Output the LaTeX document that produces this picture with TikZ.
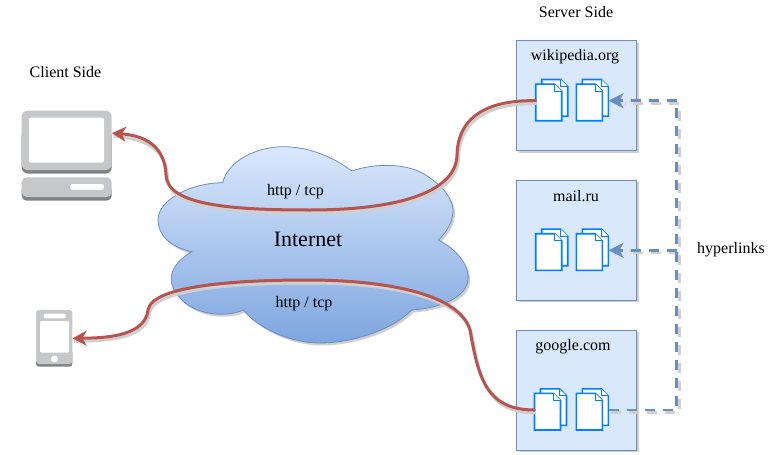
\documentclass[tikz,border=0pt]{standalone}
\usepackage{fontspec}
\setmainfont{Liberation Serif}
\usetikzlibrary{arrows.meta,calc}
\definecolor{boxfill}{HTML}{DAE8FC}
\definecolor{boxline}{HTML}{6C8EBF}
\definecolor{cloudbot}{HTML}{7EA6E0}
\definecolor{redline}{HTML}{B85450}
\definecolor{shadowc}{HTML}{CFCFCF}
\definecolor{docblue}{HTML}{007FFF}
\definecolor{icongray}{HTML}{C6C7C8}
\definecolor{icondark}{HTML}{808183}
\tikzset{
  x=1pt,y=-1pt,
  label16/.style={font=\fontsize{16}{18}\selectfont,inner sep=0pt},
  sitebox/.style={draw=boxline,fill=boxfill,line width=0.9pt,minimum width=120pt,inner sep=0pt},
  docsheet/.style={draw=docblue,fill=white,line width=1.6pt,line join=miter},
  pairbox/.style={minimum width=32pt,minimum height=41pt,inner sep=0pt},
  httpline/.style={draw=redline,line width=3pt,line cap=round,
    -{Stealth[length=14pt,width=15pt,inset=4pt,fill=redline]}},
  httpshadow/.style={draw=shadowc,line width=3pt,transform canvas={shift={(1.5,3)}}},
  linkline/.style={draw=boxline,line width=2.6pt,dash pattern=on 10pt off 8pt},
  linkshadow/.style={draw=shadowc,line width=2.6pt,dash pattern=on 10pt off 8pt,transform canvas={shift={(2.5,2.5)}}},
  linkarrow/.style={-{Stealth[length=15pt,width=15pt,inset=4pt,fill=boxline]}},
}
\newcommand{\docsheetat}[2]{% left x, top y of a 26x36.6 sheet
  \draw[docsheet] (#1,#2) -- ++(19,0) -- ++(7,7) -- ++(0,29.6) -- ++(-26,0) -- cycle;
  \draw[docsheet,line width=1pt] (#1+19,#2) -- ++(0,7) -- ++(7,0);
}
\newcommand{\docpair}[3]{% name, centre x, centre y
  \node[pairbox] (#1) at (#2,#3) {};
  \docsheetat{#2-10}{#3-21.2}
  \docsheetat{#2-16}{#3-16.6}
}
\begin{document}
\begin{tikzpicture}
\useasboundingbox (0,0) rectangle (769,455);
% cloud
\def\cloudpath{(222.7,182.7)
  .. controls (228,160) and (258,146.7) .. (283,146.7)
  .. controls (310,146.7) and (335,158) .. (351.7,171)
  .. controls (375,163) and (410,162) .. (430,178)
  .. controls (448,190) and (455,205) .. (452.7,215)
  .. controls (451,225) and (445,234) .. (438.3,240)
  .. controls (455,248) and (470,265) .. (468,280)
  .. controls (466,298) and (440,308) .. (411.7,310)
  .. controls (395,328) and (355,343) .. (320,343)
  .. controls (290,343) and (258,328) .. (243.3,310)
  .. controls (225,318) and (195,315) .. (180,298)
  .. controls (168,285) and (165,268) .. (191.7,251.7)
  .. controls (170,247) and (158,235) .. (158,220)
  .. controls (158,200) and (190,183) .. (222.7,182.7) -- cycle}
\fill[shadowc,transform canvas={shift={(2,2.5)}}] \cloudpath;
\draw[draw=boxline,line width=0.8pt,top color=boxfill,bottom color=cloudbot] \cloudpath;
\node[label16,font=\fontsize{22}{24}\selectfont] (internet) at (308,239) {Internet};
\node[label16] (http1) at (295.5,191.5) {http / tcp};
\node[label16] (http2) at (304,303.5) {http / tcp};
% labels
\node[label16] (client) at (65.5,72) {Client Side};
\node[label16] (server) at (576,12) {Server Side};
\node[label16] (hyper) at (731,250) {hyperlinks};
% site boxes
\fill[shadowc] (518.7,42.7) rectangle (638.7,152.7);
\fill[shadowc] (518.7,182.3) rectangle (638.7,302.3);
\fill[shadowc] (518.7,332.3) rectangle (638.7,452.3);
\node[sitebox,minimum height=110pt] (wiki) at (576.7,95.7) {};
\node[sitebox,minimum height=120pt] (mail) at (576.7,240.3) {};
\node[sitebox,minimum height=120pt] (goog) at (576.7,390.3) {};
\node[label16] (wikilabel) at (575,57) {wikipedia.org};
\node[label16] (maillabel) at (576,196) {mail.ru};
\node[label16] (googlabel) at (573,346.5) {google.com};
% laptop
\node[minimum width=90pt,minimum height=62.3pt,inner sep=0pt] (laptop) at (66.7,141.9) {};
\fill[icondark,rounded corners=6pt] (21.7,130) rectangle (111.7,173.5);
\fill[icongray,rounded corners=6pt] (21.7,110.7) rectangle (111.7,170);
\fill[white,rounded corners=2pt] (29,117.7) rectangle (104,162.7);
\fill[icondark,rounded corners=5pt] (21.7,185) rectangle (111.7,200.7);
\fill[icongray,rounded corners=5pt] (21.7,177.3) rectangle (111.7,197);
\fill[white,rounded corners=2.5pt] (70,184) rectangle (104,189.8);
% phone
\node[minimum width=36.3pt,minimum height=56.7pt,inner sep=0pt] (phone) at (54.2,338.3) {};
\fill[icondark,rounded corners=3pt] (36,350) rectangle (72.3,366.7);
\fill[icongray,rounded corners=3pt] (36,310) rectangle (72.3,364);
\fill[white,rounded corners=2pt] (43.7,313.6) rectangle (65.7,318.4);
\fill[white,rounded corners=1pt] (40,321) rectangle (69,352.7);
\fill[white] (54.5,359) circle (3.5);
% documents
\docpair{wa}{551.7}{100.7}
\docpair{wb}{592.3}{100.7}
\docpair{ma}{551.7}{250.3}
\docpair{mb}{592.3}{250.3}
\docpair{ga}{550.5}{410}
\docpair{gb}{592.3}{410}
% hyperlinks
\coordinate (busbottom) at (676.7,410);
\coordinate (bustop) at (676.7,100.7);
\coordinate (busmid) at (676.7,250.3);
\def\linkA{(gb.east) -- (busbottom) -- (bustop)}
\path[linkshadow] \linkA;
\path[linkshadow] (bustop) -- ($(wb.east)+(14,0)$);
\path[linkshadow] (busmid) -- ($(mb.east)+(14,0)$);
\path[linkline] \linkA;
\path[linkline,linkarrow] (bustop) -- (wb.east);
\path[linkline,linkarrow] (busmid) -- (mb.east);
% http connectors
\def\curveA{(wa.west)
  .. controls (495,100) and (458,112) .. (457,155)
  .. controls (456,195) and (390,210) .. (310,210)
  .. controls (230,210) and (167,205) .. (166,175)
  .. controls (165,150) and (150,136) .. (laptop.11)}
\def\curveB{(ga.west)
  .. controls (485,410) and (478,375) .. (470,330)
  .. controls (460,295) and (390,280) .. (307,280)
  .. controls (240,280) and (152,285) .. (148,310)
  .. controls (145,335) and (110,338) .. (phone.east)}
\path[httpshadow] \curveA;
\path[httpshadow] \curveB;
\path[httpline] \curveA;
\path[httpline] \curveB;
\end{tikzpicture}
\end{document}
